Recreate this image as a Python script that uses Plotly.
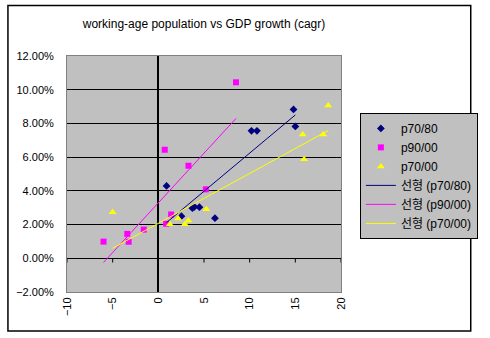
import numpy as np
import plotly.graph_objects as go

# ---- data (x: working-age population growth, y: GDP growth %) ----
p7080_x = [0.9, 2.53, 3.73, 3.95, 4.5, 6.2, 10.2, 10.8, 14.8, 15.0]
p7080_y = [4.29, 2.50, 2.97, 3.05, 3.03, 2.38, 7.56, 7.56, 8.83, 7.82]

p9000_x = [-6.0, -3.4, -3.25, -1.6, 0.7, 0.85, 1.4, 3.3, 5.2, 8.5]
p9000_y = [0.99, 1.45, 0.98, 1.70, 6.44, 2.05, 2.60, 5.49, 4.09, 10.44]

p7000_x = [-5.0, 1.26, 2.17, 2.9, 3.3, 5.25, 18.6, 15.8, 18.05, 15.96]
p7000_y = [2.73, 2.02, 2.36, 2.02, 2.24, 2.91, 9.06, 7.35, 7.35, 5.87]

series_names = ["p70/80", "p90/00", "p70/00"]
trend_names = ["선형 (p70/80)", "선형 (p90/00)", "선형 (p70/00)"]
colors = ["#000080", "#FF00FF", "#FFFF00"]
symbols = ["diamond", "square", "triangle-up"]
sizes = [6, 6, 7]

x_ticks = [-10, -5, 0, 5, 10, 15, 20]

FONT = "Liberation Sans, Arial, Noto Sans CJK KR, sans-serif"

fig = go.Figure()
data = [(p7080_x, p7080_y), (p9000_x, p9000_y), (p7000_x, p7000_y)]

for (xs, ys), name, c, s, sz in zip(data, series_names, colors, symbols, sizes):
    fig.add_trace(go.Scatter(x=xs, y=ys, mode="markers", name=name,
                             marker=dict(color=c, symbol=s, size=sz, line=dict(width=0))))

for (xs, ys), name, c in zip(data, trend_names, colors):
    slope, icpt = np.polyfit(xs, ys, 1)
    lx = np.array([min(xs), max(xs)])
    fig.add_trace(go.Scatter(x=lx, y=slope * lx + icpt, mode="lines", name=name,
                             line=dict(color=c, width=1)))

# plot-area geometry
L, R, T, B = 66.5, 349.5, 56, 292.5
W, H = 490, 338
pw, ph = R - L, B - T

def px2x(px):
    return (px - L) / pw

def py2y(py):
    return (B - py) / ph

shapes = [
    # outer chart frame
    dict(type="rect", xref="paper", yref="paper",
         x0=px2x(5.5), x1=px2x(483.5), y0=py2y(331.5), y1=py2y(5.5),
         line=dict(color="black", width=1.5), layer="below"),
]
# small tick marks on the category axis (crossing at y=0)
for t in x_ticks:
    shapes.append(dict(type="line", xref="x", yref="y", x0=t, x1=t, y0=0, y1=-0.25,
                       line=dict(color="black", width=1)))

fig.update_layout(
    width=W, height=H,
    margin=dict(l=L, r=W - R, t=T, b=H - B, pad=0),
    paper_bgcolor="white",
    plot_bgcolor="#C0C0C0",
    font=dict(family=FONT, size=11, color="black"),
    title=dict(text="working-age population vs GDP growth (cagr)",
               x=0.5, xanchor="center", xref="paper",
               y=1 - 23.5 / H, yanchor="middle", yref="container",
               font=dict(size=12, family=FONT)),
    xaxis=dict(range=[-10, 20], tickvals=x_ticks, tickangle=-90,
               showgrid=False, zeroline=True, zerolinecolor="black", zerolinewidth=1.5,
               showline=True, mirror=True, linecolor="#808080", linewidth=1,
               ticks="", tickfont=dict(size=11)),
    yaxis=dict(range=[-2, 12], dtick=2, tickformat=".2f", ticksuffix="%",
               showgrid=True, gridcolor="black", gridwidth=1,
               zeroline=True, zerolinecolor="black", zerolinewidth=1,
               showline=True, mirror=True, linecolor="#808080", linewidth=1,
               ticks="", ticklabelstandoff=10, tickfont=dict(size=11)),
    legend=dict(x=px2x(369), y=py2y(113), xanchor="left", yanchor="top",
                bgcolor="#C0C0C0", bordercolor="black", borderwidth=1,
                font=dict(size=12, family=FONT), tracegroupgap=0),
    shapes=shapes,
    showlegend=True,
)

fig.write_html("out.html")
